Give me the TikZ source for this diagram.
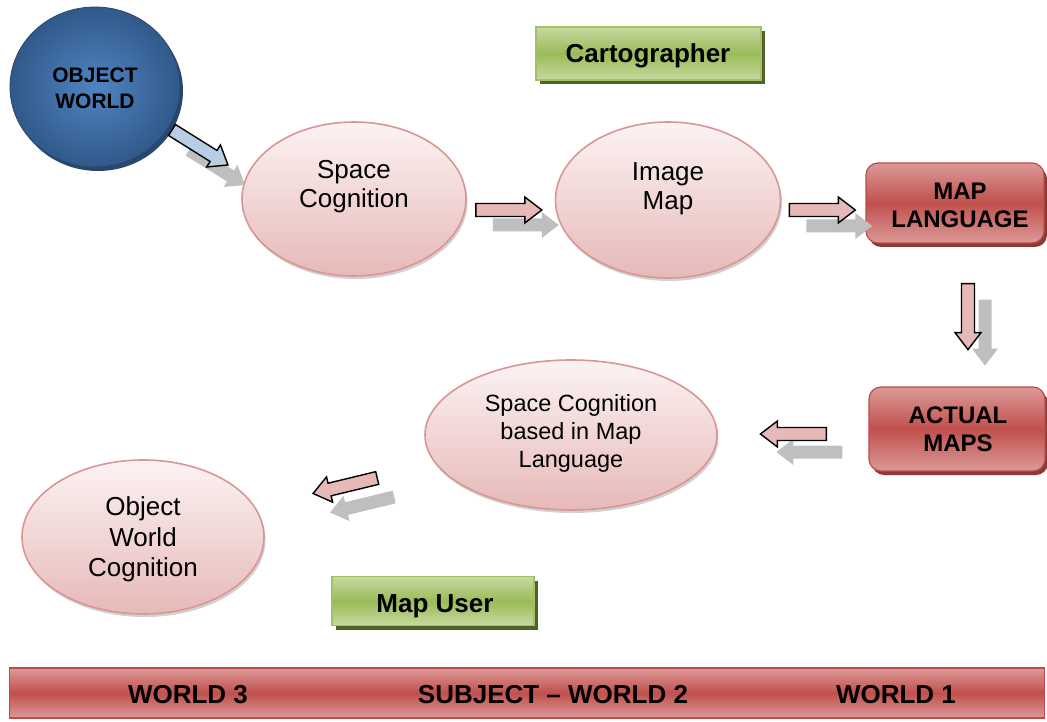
\documentclass[tikz,border=0pt]{standalone}
\usepackage{fontspec}
\setmainfont{Liberation Sans}
\usetikzlibrary{shapes.geometric,shadows,calc}

\definecolor{ellTop}{HTML}{FCF3F3}
\definecolor{ellBot}{HTML}{E6B9B8}
\definecolor{ellLine}{HTML}{D99694}
\definecolor{redLight}{HTML}{DC9A98}
\definecolor{redMid}{HTML}{C0504D}
\definecolor{redLine}{HTML}{BE4B48}
\definecolor{redShadow}{HTML}{8C3A38}
\definecolor{grnLight}{HTML}{C6D9A0}
\definecolor{grnMid}{HTML}{9BBB59}
\definecolor{grnLine}{HTML}{A3C164}
\definecolor{grnShadow}{HTML}{4F6228}
\definecolor{bluIn}{HTML}{4F84C2}
\definecolor{bluOut}{HTML}{31598A}
\definecolor{bluShadow}{HTML}{27476F}
\definecolor{arrBlue}{HTML}{B9CDE5}
\definecolor{arrPink}{HTML}{E6B9B8}
\definecolor{arrGray}{HTML}{BFBFBF}

\tikzset{
  cogn/.style={ellipse, draw=ellLine, line width=1.6pt, inner sep=0pt,
    top color=ellTop, bottom color=ellBot,
    drop shadow={shadow xshift=1.5pt, shadow yshift=-3pt, fill=black, opacity=0.18}},
  redbox/.style={rectangle, rounded corners=12pt, draw=redLine, line width=1.2pt,
    top color=redLight, bottom color=redLight, middle color=redMid,
    drop shadow={shadow xshift=3pt, shadow yshift=-4pt, fill=redShadow, opacity=1}},
  greenbox/.style={rectangle, draw=grnLine, line width=1.2pt,
    top color=grnLight, bottom color=grnLight, middle color=grnMid,
    drop shadow={shadow xshift=4pt, shadow yshift=-4pt, fill=grnShadow, opacity=1}},
  worldball/.style={ellipse, draw=bluOut!80!black, line width=0.8pt,
    inner color=bluIn, outer color=bluOut,
    drop shadow={shadow xshift=3pt, shadow yshift=-4pt, fill=bluShadow, opacity=1}},
  plain/.style={align=center, inner sep=0pt, text=black,
    font=\fontsize{26}{29}\selectfont},
  small/.style={align=center, inner sep=0pt, text=black,
    font=\fontsize{23.5}{28}\selectfont},
  heavy/.style={align=center, inner sep=0pt, text=black,
    font=\bfseries\fontsize{24}{28}\selectfont},
  barrow/.pic={
    \path[pic actions] (0,-6.5) -- (49,-6.5) -- (49,-13) -- (66,0)
      -- (49,13) -- (49,6.5) -- (0,6.5) -- cycle;
  },
}

\begin{document}
\begin{tikzpicture}[x=1pt, y=-1pt, line join=miter]
\useasboundingbox (0,0) rectangle (1047,722);
\fill[white] (0,0) rectangle (1047,722);

% --- main nodes ---
\node[worldball, minimum width=170pt, minimum height=160pt] (ow) at (95,87) {};
\node[heavy, font=\bfseries\fontsize{21}{26}\selectfont] (owt) at (95,88.5) {OBJECT\\WORLD};

\node[greenbox, minimum width=225pt, minimum height=53pt] (carto) at (648.5,53.5) {};
\node[heavy, font=\bfseries\fontsize{26}{30}\selectfont] (cartot) at (648,56) {Cartographer};

\node[cogn, minimum width=224pt, minimum height=154pt] (sc) at (354,199) {};
\node[plain] (sct) at ($(sc)+(0,-12)$) {Space\\Cognition};

\node[cogn, minimum width=225pt, minimum height=156pt] (im) at (668,200) {};
\node[plain] (imt) at ($(im)+(0,-11)$) {Image\\Map};

\node[redbox, minimum width=178pt, minimum height=80pt] (ml) at (955,203) {};
\node[heavy] (mlt) at (960,205) {MAP\\LANGUAGE};

\node[redbox, minimum width=176pt, minimum height=84pt] (am) at (957,429) {};
\node[heavy] (amt) at (958,429.5) {ACTUAL\\MAPS};

\node[cogn, minimum width=292pt, minimum height=150pt] (scm) at (571,435) {};
\node[small] (scmt) at ($(scm)+(0,-2)$) {Space Cognition\\based in Map\\Language};

\node[cogn, minimum width=242pt, minimum height=154pt] (owc) at (143,537) {};
\node[plain, font=\fontsize{26}{30.5}\selectfont] (owct) at ($(owc)+(0,2.5)$) {Object\\World\\Cognition};

\node[greenbox, minimum width=202pt, minimum height=49pt] (mu) at (433,601) {};
\node[heavy, font=\bfseries\fontsize{26}{30}\selectfont] (mut) at (435,606) {Map User};

% --- bottom band ---
\node[rectangle, draw=redLine, line width=1.2pt,
  top color=redLight, bottom color=redLight, middle color=redMid,
  minimum width=1035pt, minimum height=50pt] (band) at (527,693) {};
\node[heavy, font=\bfseries\fontsize{26}{28}\selectfont] (w3) at (188,695) {WORLD 3};
\node[heavy, font=\bfseries\fontsize{26}{28}\selectfont] (w2) at (553,695) {SUBJECT – WORLD 2};
\node[heavy, font=\bfseries\fontsize{26}{28}\selectfont] (w1) at (896,695) {WORLD 1};

% --- block arrows: grey shade first, coloured arrow on top ---
\pic[fill=arrGray, rotate=-32] (s1) at ($(ow)+(94,63)$) {barrow};
\pic[fill=arrBlue, draw=black, line width=1.4pt, rotate=-32] (a1) at ($(ow)+(77,43)$) {barrow};

\pic[fill=arrGray] (s2) at ($(sc.east)+(26,26)$) {barrow};
\pic[fill=arrPink, draw=black, line width=1.4pt] (a2) at ($(sc.east)+(9,11)$) {barrow};

\pic[fill=arrGray] (s3) at ($(im.east)+(25,26)$) {barrow};
\pic[fill=arrPink, draw=black, line width=1.4pt] (a3) at ($(im.east)+(8,10)$) {barrow};

\pic[fill=arrGray, rotate=-90] (s4) at ($(ml.south)+(30,56)$) {barrow};
\pic[fill=arrPink, draw=black, line width=1.4pt, rotate=-90] (a4) at ($(ml.south)+(13,40)$) {barrow};

\pic[fill=arrGray, rotate=180] (s5) at ($(am.west)+(-26,23)$) {barrow};
\pic[fill=arrPink, draw=black, line width=1.4pt, rotate=180] (a5) at ($(am.west)+(-42,5)$) {barrow};

\pic[fill=arrGray, rotate=193.6] (s6) at ($(scm.west)+(-30,62)$) {barrow};
\pic[fill=arrPink, draw=black, line width=1.4pt, rotate=193.6] (a6) at ($(scm.west)+(-47,43)$) {barrow};
\end{tikzpicture}
\end{document}
